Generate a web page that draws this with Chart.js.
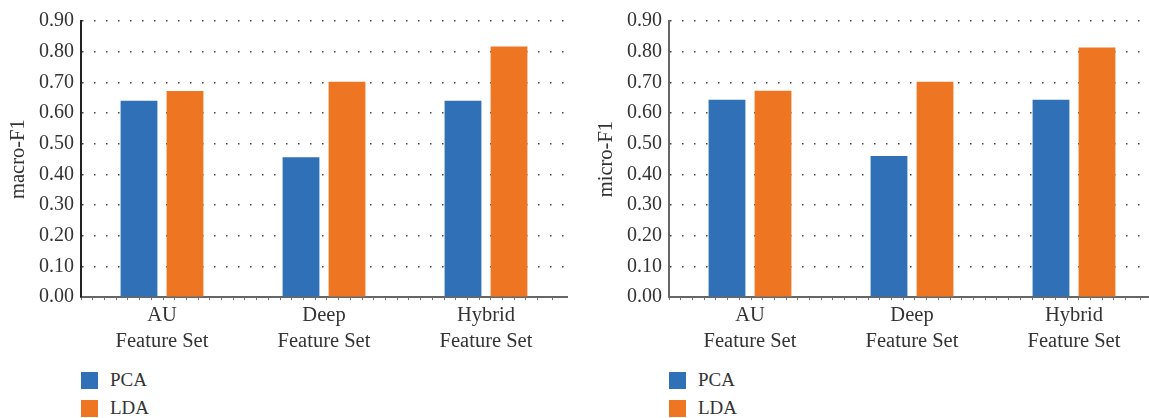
<!DOCTYPE html>
<html>
<head>
<meta charset="utf-8">
<title>macro-F1 / micro-F1</title>
<script src="https://cdn.jsdelivr.net/npm/chart.js@4.4.1/dist/chart.umd.min.js"></script>
<style>
    html, body { margin: 0; padding: 0; background: #fff; overflow: hidden; }
    body { width: 1149px; height: 418px; position: relative; font-family: "Liberation Serif", serif; color: #333; }
    .panel { position: absolute; top: 0; width: 580px; height: 418px; }
    .chart-box { position: absolute; left: 0; top: 0; width: 580px; height: 357px; }
    .legend { position: absolute; left: 81px; top: 366px; }
    .legend-item { display: flex; align-items: center; height: 28px; font-size: 19px; }
    .legend-swatch { width: 17px; height: 17px; margin-right: 12px; }
</style>
</head>
<body>
<div class="panel" style="left: 0px;">
    <div class="chart-box"><canvas id="macroChart"></canvas></div>
    <div class="legend" id="macroLegend"></div>
</div>
<div class="panel" style="left: 588px;">
    <div class="chart-box"><canvas id="microChart"></canvas></div>
    <div class="legend" id="microLegend"></div>
</div>
<script>
// categories (two-line tick labels)
const categories = [['AU', 'Feature Set'], ['Deep', 'Feature Set'], ['Hybrid', 'Feature Set']];
const seriesNames = ['PCA', 'LDA'];
const seriesColors = ['#2F70B7', '#EE7623'];

// macro-F1 values
const macroPCA = [0.640, 0.456, 0.640];
const macroLDA = [0.672, 0.702, 0.817];

// micro-F1 values
const microPCA = [0.643, 0.460, 0.643];
const microLDA = [0.673, 0.702, 0.814];

// y axis range
const yMin = 0;
const yMax = 0.9;
const yStep = 0.1;

const FONT = '"Liberation Serif", "Times New Roman", serif';

function renderLegend(id) {
    const el = document.getElementById(id);
    el.innerHTML = seriesNames.map((name, i) => `
        <div class="legend-item">
            <div class="legend-swatch" style="background: ${seriesColors[i]}"></div>
            <span>${name}</span>
        </div>
    `).join('');
}

function makeChart(canvasId, yTitle, pcaValues, ldaValues, axisColor) {
    const ctx = document.getElementById(canvasId);
    return new Chart(ctx, {
        type: 'bar',
        data: {
            labels: categories,
            datasets: [
                {
                    label: seriesNames[0],
                    data: pcaValues,
                    backgroundColor: seriesColors[0],
                    categoryPercentage: 0.568,
                    barPercentage: 0.80
                },
                {
                    label: seriesNames[1],
                    data: ldaValues,
                    backgroundColor: seriesColors[1],
                    categoryPercentage: 0.568,
                    barPercentage: 0.80
                }
            ]
        },
        options: {
            responsive: true,
            maintainAspectRatio: false,
            animation: false,
            layout: {
                padding: { top: 21, right: 13, bottom: 0, left: 0 }
            },
            plugins: {
                legend: { display: false },
                tooltip: { enabled: false }
            },
            scales: {
                x: {
                    type: 'category',
                    weight: 1,
                    offset: true,
                    grid: { display: false, drawTicks: false },
                    border: { display: false },
                    ticks: {
                        color: '#333',
                        font: { family: FONT, size: 20.5, lineHeight: 1.24 },
                        padding: 3,
                        maxRotation: 0,
                        autoSkip: false
                    }
                },
                // minor tick marks under the x axis line
                xMinor: {
                    type: 'linear',
                    position: 'bottom',
                    weight: 0,
                    min: 0,
                    max: 40.5,
                    grid: { drawOnChartArea: false, drawTicks: true, tickLength: 3, color: '#777', lineWidth: 1 },
                    border: { display: true, color: '#666', width: 2 },
                    ticks: { display: false, stepSize: 1, autoSkip: false }
                },
                y: {
                    min: yMin,
                    max: yMax,
                    afterFit(scale) {
                        scale.width = 81;
                    },
                    title: {
                        display: true,
                        text: yTitle,
                        color: '#333',
                        font: { family: FONT, size: 20.5 },
                        padding: { top: 6, bottom: 0 }
                    },
                    grid: { color: '#444', lineWidth: 1.5, drawTicks: false },
                    border: { display: true, color: axisColor, width: 2, dash: [1.5, 10.5] },
                    ticks: {
                        stepSize: yStep,
                        color: '#333',
                        font: { family: FONT, size: 20 },
                        padding: 7,
                        callback: v => v.toFixed(2)
                    }
                }
            }
        }
    });
}

makeChart('macroChart', 'macro-F1', macroPCA, macroLDA, '#222');
makeChart('microChart', 'micro-F1', microPCA, microLDA, '#666');
renderLegend('macroLegend');
renderLegend('microLegend');
</script>
</body>
</html>
